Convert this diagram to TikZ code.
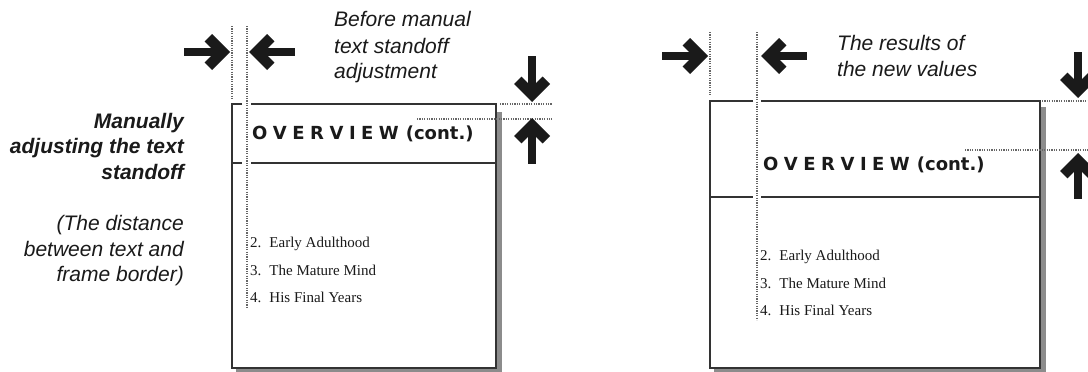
\documentclass[tikz,border=0pt]{standalone}
\usepackage{graphicx}
\usepackage{fontspec}
\setmainfont{Liberation Sans}
\newfontfamily\pixserif{Liberation Serif}
\newfontfamily\ovfont{DejaVu Sans}
\definecolor{ink}{HTML}{1A1A1A}
\definecolor{frameline}{HTML}{333333}
\definecolor{dotcol}{HTML}{666666}
\definecolor{shadowcol}{HTML}{8C8C8C}
\tikzset{
  lab/.style={inner sep=0pt, text=ink, font=\fontsize{21}{25}\selectfont\itshape},
  boldlab/.style={lab, font=\fontsize{21}{25}\selectfont\bfseries\itshape},
  ovtext/.style={inner sep=0pt, anchor=base west, text=ink, font=\fontsize{18}{20}\selectfont\ovfont\bfseries},
  listtext/.style={inner sep=0pt, anchor=base west, text=ink, font=\fontsize{15}{17}\selectfont\pixserif},
  guide/.style={draw=dotcol, line width=1.2pt, dash pattern=on 1.2pt off 1.2pt},
  frameedge/.style={draw=frameline, line width=1.6pt},
  shadow/.style={fill=shadowcol},
  bigarrow/.pic={
    \fill[ink] (0,0) -- (-18,-18) -- (-25.4,-10.6) -- (-14.8,0) -- (-25.4,10.6) -- (-18,18) -- cycle;
    \fill[ink] (-46,-4.4) rectangle (-12,4.4);
  }
}
\newcommand{\ls}{\kern5.5pt}
\begin{document}
\begin{tikzpicture}[x=1pt,y=-1pt]
\clip (0,0) rectangle (1088,372);
\fill[white] (0,0) rectangle (1088,372);

% ---------------- left labels ----------------
\node[boldlab, anchor=base east] (m1) at (184,128) {Manually};
\node[boldlab, anchor=base east] (m2) at (184,153.5) {adjusting the text};
\node[boldlab, anchor=base east] (m3) at (184,179) {standoff};
\node[lab, anchor=base east] (d1) at (184,230) {(The distance};
\node[lab, anchor=base east] (d2) at (184,256) {between text and};
\node[lab, anchor=base east] (d3) at (184,281) {frame border)};

% ---------------- left figure ----------------
\node[lab, anchor=base west] (b1) at (334,27) {Before manual};
\node[lab, anchor=base west] (b2) at (334,53) {text standoff};
\node[lab, anchor=base west] (b3) at (334,78) {adjustment};

% shadow
\fill[shadow] (497,112) rectangle (502,373);
\fill[shadow] (236,369) rectangle (502,373);
% frame
\coordinate (LTL) at (232,104);
\coordinate (LBR) at (496,368);
\draw[frameedge] (242,104) -- (LTL) -- (232,368) -- (LBR) -- (496,104) -- (251,104);
\draw[frameedge] (232,163) -- (242,163);
\draw[frameedge] (251,163) -- (496,163);
% guides
\coordinate (g1a) at (232,26); \coordinate (g1b) at (232,100);
\coordinate (g2a) at (247,26); \coordinate (g2b) at (247,307);
\draw[guide] (g1a) -- (g1b);
\draw[guide] (g2a) -- (g2b);
\coordinate (h1a) at (500,104); \coordinate (h1b) at (552,104);
\coordinate (h2a) at (417,119); \coordinate (h2b) at (552,119);
\draw[guide] (h1a) -- (h1b);
\draw[guide] (h2a) -- (h2b);
% arrows
\pic at (230,52) {bigarrow};
\pic[rotate=180] at (249,52) {bigarrow};
\pic[rotate=-90] at (532,102) {bigarrow};
\pic[rotate=90] at (532,118) {bigarrow};
% texts
\node[ovtext] (ov1) at (252,139.5) {O\ls V\ls E\ls R\ls V\ls I\ls E\ls W\kern7pt(cont.)};
\node[listtext] (la) at (250,247) {2.\hspace{8pt}Early Adulthood};
\node[listtext] (lb) at (250,275) {3.\hspace{8pt}The Mature Mind};
\node[listtext] (lc) at (250,302) {4.\hspace{8pt}His Final Years};

% ---------------- right figure ----------------
\node[lab, anchor=base west] (r1) at (837,50) {The results of};
\node[lab, anchor=base west] (r2) at (837,76) {the new values};

\fill[shadow] (1041,107) rectangle (1046,373);
\fill[shadow] (714,369) rectangle (1046,373);
\coordinate (RTL) at (710,101);
\coordinate (RBR) at (1040,368);
\draw[frameedge] (753,101) -- (RTL) -- (710,368) -- (RBR) -- (1040,101) -- (761,101);
\draw[frameedge] (710,197) -- (753,197);
\draw[frameedge] (761,197) -- (1040,197);
\coordinate (g3a) at (710,32); \coordinate (g3b) at (710,95);
\coordinate (g4a) at (757,32); \coordinate (g4b) at (757,320);
\draw[guide] (g3a) -- (g3b);
\draw[guide] (g4a) -- (g4b);
\coordinate (h3a) at (1042,101); \coordinate (h3b) at (1088,101);
\coordinate (h4a) at (965,150); \coordinate (h4b) at (1088,150);
\draw[guide] (h3a) -- (h3b);
\draw[guide] (h4a) -- (h4b);
\pic at (708,56) {bigarrow};
\pic[rotate=180] at (761,56) {bigarrow};
\pic[rotate=-90] at (1078,98) {bigarrow};
\pic[rotate=90] at (1078,153) {bigarrow};
\node[ovtext] (ov2) at (763,170) {O\ls V\ls E\ls R\ls V\ls I\ls E\ls W\kern7pt(cont.)};
\node[listtext] (ra) at (760,260) {2.\hspace{8pt}Early Adulthood};
\node[listtext] (rb) at (760,288) {3.\hspace{8pt}The Mature Mind};
\node[listtext] (rc) at (760,315) {4.\hspace{8pt}His Final Years};
\end{tikzpicture}
\end{document}
